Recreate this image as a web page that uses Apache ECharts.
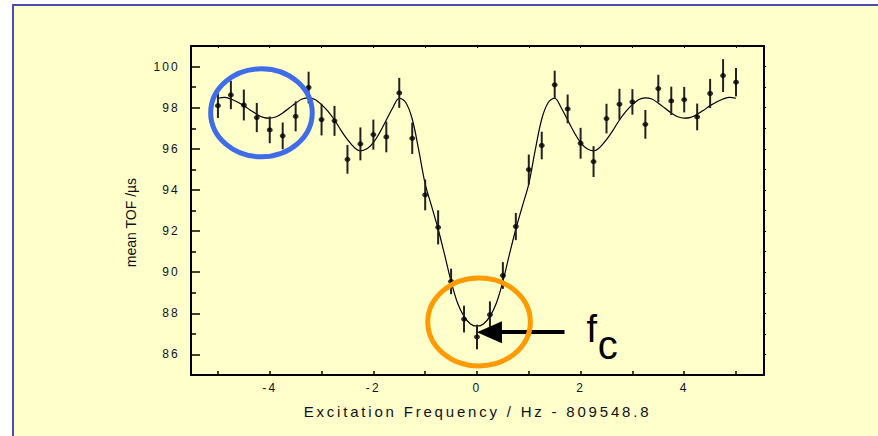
<!DOCTYPE html>
<html>
<head>
<meta charset="utf-8">
<script src="https://cdn.jsdelivr.net/npm/echarts@6/dist/echarts.min.js"></script>
<style>
  html, body { margin: 0; padding: 0; background: #fff; overflow: hidden; }
  #chart { position: absolute; left: 0; top: 0; width: 878px; height: 436px; }
  /* the original slide uses wide letter spacing on tick labels and x title */
  #chart text[style*="12px"] { letter-spacing: 2.2px; }
  #chart text[style*="15px"] { letter-spacing: 2.8px; }
</style>
</head>
<body>
<div id="chart"></div>
<script>
// measured points (frequency offset in Hz, mean TOF in us, error bar half-height)
const freq = [-5, -4.75, -4.5, -4.25, -4, -3.75, -3.5, -3.25, -3, -2.75, -2.5, -2.25, -2, -1.75, -1.5, -1.25,
  -1, -0.75, -0.5, -0.25, 0, 0.25, 0.5, 0.75, 1, 1.25, 1.5, 1.75, 2, 2.25, 2.5, 2.75, 3, 3.25, 3.5, 3.75,
  4, 4.25, 4.5, 4.75, 5];
const tof = [98.10, 98.62, 98.13, 97.52, 96.92, 96.63, 97.58, 98.98, 97.42, 97.36, 95.49, 96.24, 96.69, 96.58,
  98.72, 96.51, 93.76, 92.18, 89.55, 87.72, 86.85, 87.93, 89.84, 92.22, 94.99, 96.16, 99.11, 97.94, 96.27,
  95.38, 97.47, 98.17, 98.28, 97.19, 98.93, 98.33, 98.39, 97.55, 98.69, 99.56, 99.24];
const tofErr = [0.60, 0.69, 0.75, 0.71, 0.65, 0.65, 0.73, 0.77, 0.77, 0.73, 0.70, 0.80, 0.73, 0.75, 0.73, 0.76,
  0.75, 0.83, 0.62, 0.65, 0.60, 0.65, 0.65, 0.66, 0.73, 0.67, 0.69, 0.70, 0.75, 0.75, 0.72, 0.75, 0.62, 0.70,
  0.67, 0.69, 0.62, 0.65, 0.71, 0.80, 0.69];

// fitted resonance curve, every 0.125 Hz
const fitX = [-5, -4.875, -4.75, -4.625, -4.5, -4.375, -4.25, -4.125, -4, -3.875, -3.75, -3.625, -3.5, -3.375,
  -3.25, -3.125, -3, -2.875, -2.75, -2.625, -2.5, -2.375, -2.25, -2.125, -2, -1.875, -1.75, -1.625, -1.5,
  -1.375, -1.25, -1.125, -1, -0.875, -0.75, -0.625, -0.5, -0.375, -0.25, -0.125, 0, 0.125, 0.25, 0.375, 0.5,
  0.625, 0.75, 0.875, 1, 1.125, 1.25, 1.375, 1.5, 1.625, 1.75, 1.875, 2, 2.125, 2.25, 2.375, 2.5, 2.625, 2.75,
  2.875, 3, 3.125, 3.25, 3.375, 3.5, 3.625, 3.75, 3.875, 4, 4.125, 4.25, 4.375, 4.5, 4.625, 4.75, 4.875, 5];
const fitY = [98.46, 98.50, 98.42, 98.28, 98.10, 97.88, 97.68, 97.53, 97.49, 97.56, 97.74, 97.98, 98.22, 98.42,
  98.48, 98.40, 98.15, 97.82, 97.40, 96.90, 96.45, 96.08, 95.90, 96.00, 96.30, 96.80, 97.40, 98.00, 98.46,
  98.25, 97.45, 95.95, 94.30, 93.20, 92.10, 90.85, 89.55, 88.50, 87.85, 87.48, 87.38, 87.48, 87.85, 88.50,
  89.55, 90.85, 92.10, 93.20, 94.30, 95.95, 97.45, 98.25, 98.46, 98.00, 97.40, 96.80, 96.30, 96.00, 95.90,
  96.08, 96.45, 96.90, 97.40, 97.82, 98.15, 98.40, 98.48, 98.42, 98.22, 97.98, 97.74, 97.56, 97.49, 97.53,
  97.68, 97.88, 98.10, 98.28, 98.42, 98.50, 98.46];

// axis ticks and labels
const xTicks = [-5, -4, -3, -2, -1, 0, 1, 2, 3, 4, 5];
const xLabels = [-4, -2, 0, 2, 4];
const yMajor = [86, 88, 90, 92, 94, 96, 98, 100];
const yMinor = [87, 89, 91, 93, 95, 97, 99];
const yAll = [86, 87, 88, 89, 90, 91, 92, 93, 94, 95, 96, 97, 98, 99, 100];

// annotation anchors in data units
const arrowFrom = [1.69, 87.08];
const arrowTo = [0.24, 87.08];
const blueRing = { c: [-4.16, 97.75], rx: 0.98, ry: 2.14 };
const orangeRing = { c: [0.04, 87.58], rx: 0.99, ry: 2.14 };

const chart = echarts.init(document.getElementById('chart'), null, { renderer: 'svg' });

const axisLine = { show: true, onZero: false, lineStyle: { color: '#000', width: 2 } };
const tickFont = { color: '#111', fontSize: 12, fontFamily: 'Liberation Sans' };

let option = {
  animation: false,
  backgroundColor: '#fff',
  grid: { left: 191, right: 114, top: 46, bottom: 61 },
  xAxis: [
    {
      type: 'value', min: -5.52, max: 5.54, position: 'bottom',
      axisLine: axisLine,
      axisTick: { inside: true, length: 4, customValues: xTicks, lineStyle: { color: '#000', width: 1.5 } },
      axisLabel: { customValues: xLabels, margin: 7, ...tickFont },
      splitLine: { show: false },
      name: 'Excitation Frequency / Hz - 809548.8',
      nameLocation: 'middle', nameGap: 29,
      nameTextStyle: { fontSize: 15, color: '#111', fontFamily: 'Liberation Sans' }
    },
    {
      type: 'value', min: -5.52, max: 5.54, position: 'top',
      axisLine: axisLine,
      axisTick: { inside: true, length: 2, customValues: xTicks, lineStyle: { color: '#000' } },
      axisLabel: { show: false },
      splitLine: { show: false }
    }
  ],
  yAxis: [
    {
      type: 'value', min: 85, max: 101, position: 'left',
      axisLine: axisLine,
      axisTick: { inside: true, length: 9, customValues: yMajor, lineStyle: { color: '#000', width: 1.5 } },
      axisLabel: { customValues: yMajor, margin: 11, ...tickFont },
      splitLine: { show: false },
      name: 'mean TOF /\u00b5s',
      nameLocation: 'middle', nameGap: 53, nameRotate: 90,
      nameTextStyle: { fontSize: 14, color: '#111', fontFamily: 'Liberation Sans', padding: [0, 24, 0, 0] }
    },
    {
      type: 'value', min: 85, max: 101, position: 'left',
      axisLine: { show: false, onZero: false },
      axisTick: { inside: true, length: 5, customValues: yMinor, lineStyle: { color: '#000', width: 1.5 } },
      axisLabel: { show: false },
      splitLine: { show: false }
    },
    {
      type: 'value', min: 85, max: 101, position: 'right',
      axisLine: axisLine,
      axisTick: { inside: false, length: 2, customValues: yAll, lineStyle: { color: '#000' } },
      axisLabel: { show: false },
      splitLine: { show: false }
    }
  ],
  series: [
    {
      name: 'fit',
      type: 'line',
      data: fitX.map((x, i) => [x, fitY[i]]),
      smooth: 0.35,
      showSymbol: false,
      lineStyle: { color: '#000', width: 1.2 },
      z: 3,
      markLine: {
        silent: true,
        symbol: ['none', 'triangle'],
        symbolSize: [22, 25],
        label: { show: false },
        lineStyle: { color: '#000', width: 4, type: 'solid' },
        data: [[{ coord: arrowFrom }, { coord: arrowTo }]]
      }
    },
    {
      name: 'error',
      type: 'custom',
      data: freq.map((x, i) => [x, tof[i], tofErr[i]]),
      renderItem: (params, api) => {
        let x = api.value(0), y = api.value(1), e = api.value(2);
        let top = api.coord([x, y + e]);
        let bot = api.coord([x, y - e]);
        return {
          type: 'line',
          shape: { x1: top[0], y1: top[1], x2: bot[0], y2: bot[1] },
          style: { stroke: '#222', lineWidth: 2 }
        };
      },
      z: 4
    },
    {
      name: 'data',
      type: 'scatter',
      data: freq.map((x, i) => [x, tof[i]]),
      symbol: 'circle',
      symbolSize: [6, 5],
      itemStyle: { color: '#000' },
      z: 5
    }
  ]
};

chart.setOption(option);

// slide panel, rings and f_c label
const toPx = (p) => chart.convertToPixel({ xAxisIndex: 0, yAxisIndex: 0 }, p);
const ring = (r, color) => {
  let c = toPx(r.c);
  let ex = toPx([r.c[0] + r.rx, r.c[1]]);
  let ey = toPx([r.c[0], r.c[1] + r.ry]);
  return {
    type: 'ellipse', z: 10, silent: true,
    shape: { cx: c[0], cy: c[1], rx: Math.abs(ex[0] - c[0]), ry: Math.abs(c[1] - ey[1]) },
    style: { fill: 'none', stroke: color, lineWidth: 5 }
  };
};
let fPos = toPx([2.115, 86.58]);
let cPos = toPx([2.33, 85.80]);
chart.setOption({
  graphic: [
    {
      type: 'rect', z: -10, silent: true,
      shape: { x: 12, y: 4, width: 866, height: 432 },
      style: { fill: '#ffffcc' }
    },
    {
      type: 'polyline', z: -9, silent: true,
      shape: { points: [[13, 436], [13, 5], [878, 5]] },
      style: { stroke: '#4b4bb0', lineWidth: 2, fill: 'none' }
    },
    ring(blueRing, '#3f6ce8'),
    ring(orangeRing, '#ff9a00'),
    {
      type: 'text', z: 11, silent: true,
      style: { text: 'f', x: fPos[0], y: fPos[1] - 0.3465 * 38, fontSize: 38, fontFamily: 'Liberation Sans', fill: '#000', textAlign: 'left', textVerticalAlign: 'middle' }
    },
    {
      type: 'text', z: 11, silent: true,
      style: { text: 'c', x: cPos[0], y: cPos[1] - 0.3465 * 40, fontSize: 40, fontFamily: 'Liberation Sans', fill: '#000', textAlign: 'left', textVerticalAlign: 'middle' }
    }
  ]
});

window.addEventListener('resize', () => chart.resize());
</script>
</body>
</html>
